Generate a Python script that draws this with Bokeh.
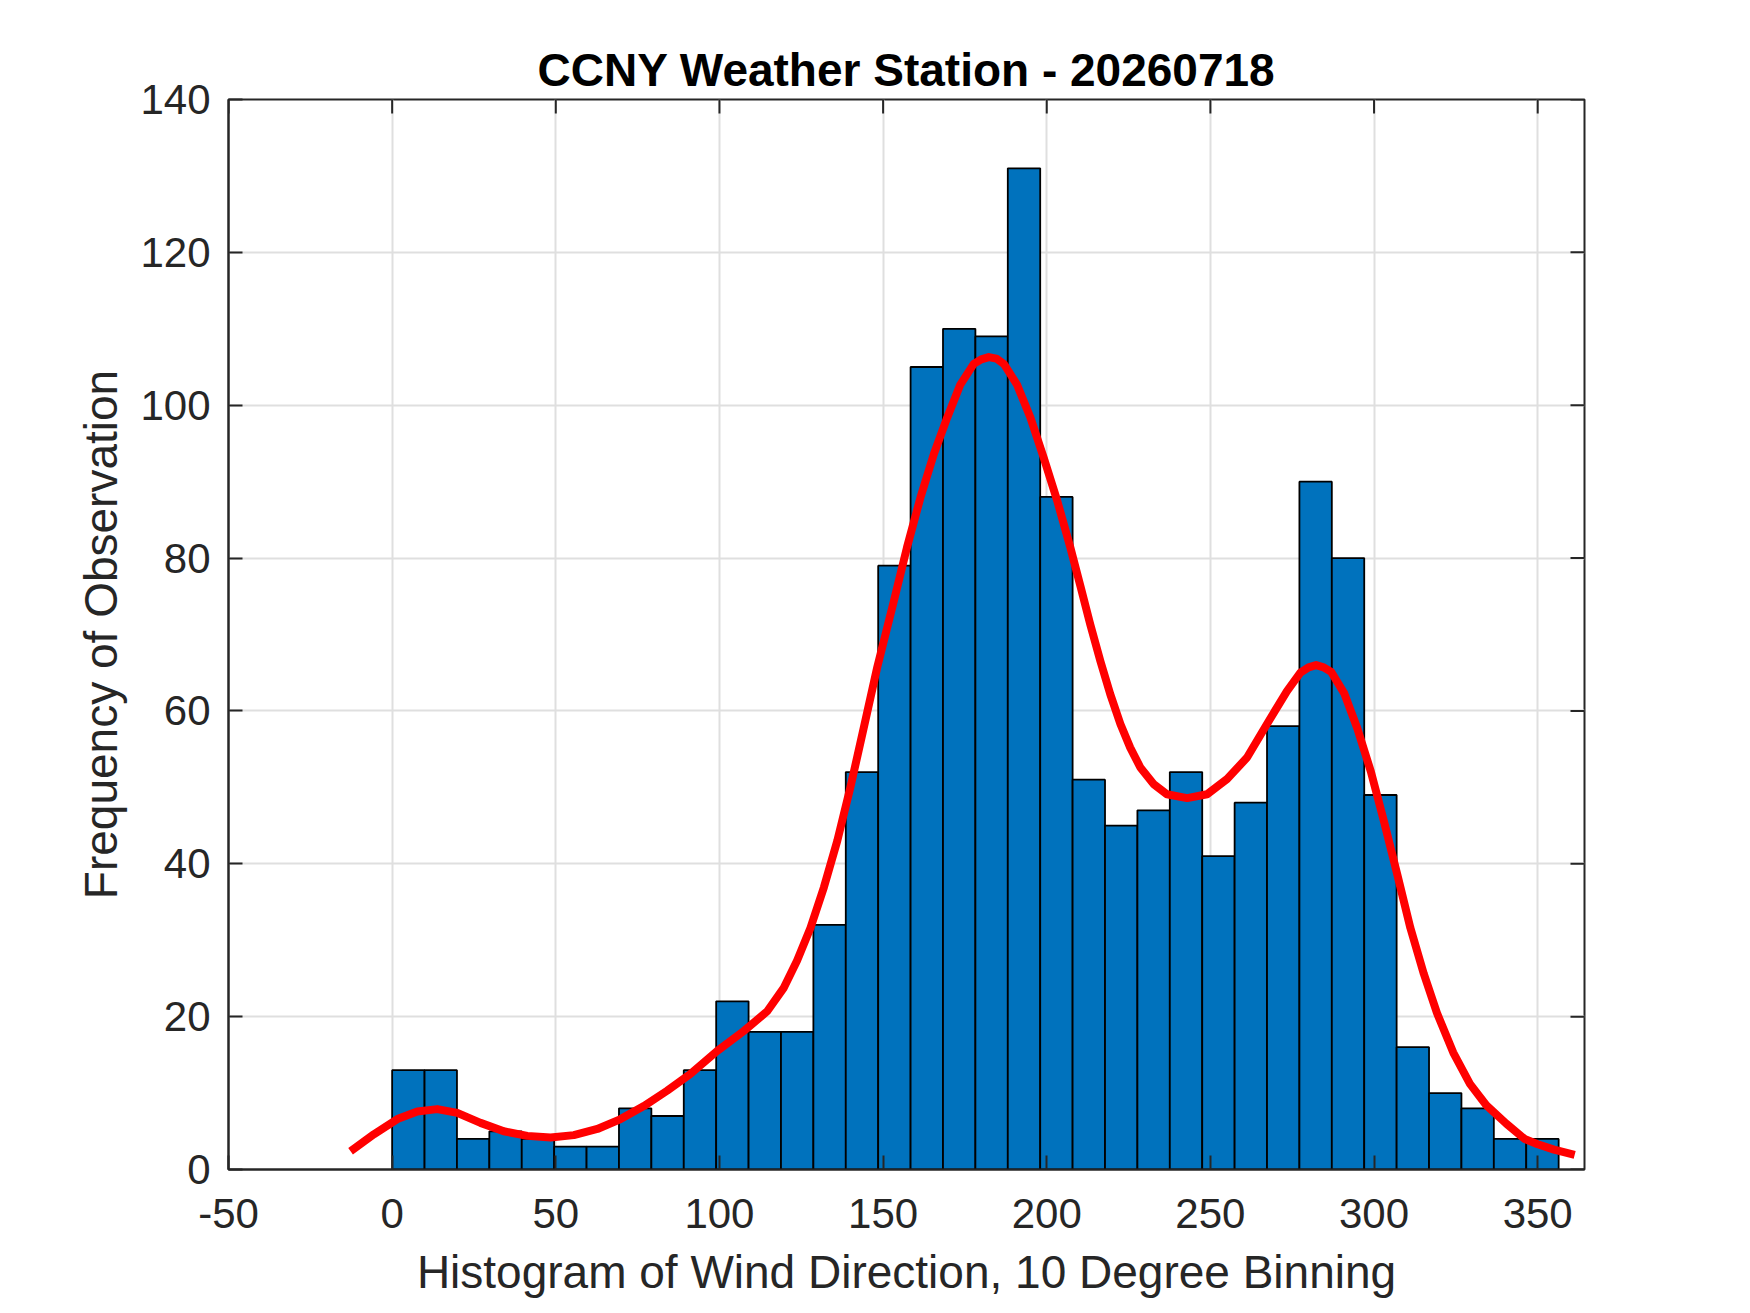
import numpy as np

from bokeh.plotting import figure
from bokeh.models import FixedTicker, Range1d
from bokeh.embed import file_html
from bokeh.resources import INLINE

#-------------- data ----------#
counts = [13, 13, 4, 5, 4, 3, 3, 8, 7, 13, 22, 18, 18, 32, 52, 79, 105, 110, 109, 131,
          88, 51, 45, 47, 52, 41, 48, 58, 90, 80, 49, 16, 10, 8, 4, 4]
dir_min = 0.0          # lowest wind direction in the sample
dir_max = 356.4        # highest wind direction in the sample

# kernel fit drawn over the histogram
fit_x = [-12.7, -5.6, 1.6, 7.7, 13.8, 19.9, 27.0, 34.1, 41.3, 48.4, 55.5, 62.7, 69.8,
         76.9, 84.0, 91.1, 99.3, 107.4, 114.6, 119.7, 123.7, 127.8, 131.9, 136.0,
         140.0, 144.1, 148.2, 153.3, 157.3, 161.4, 165.5, 169.6, 173.6, 177.7, 180.0,
         182.3, 184.6, 186.9, 190.9, 195.0, 199.1, 203.2, 207.2, 210.3, 213.3, 216.4,
         219.4, 222.5, 225.5, 228.6, 232.7, 236.7, 242.9, 249.0, 255.1, 261.2, 267.3,
         273.4, 277.5, 280.0, 282.3, 284.6, 286.9, 290.9, 294.9, 299.0, 303.0, 307.1,
         311.1, 315.2, 319.2, 324.2, 329.3, 334.3, 340.4, 346.0, 350.0, 355.0, 361.3]
fit_y = [2.4, 4.6, 6.6, 7.6, 7.9, 7.4, 6.1, 5.0, 4.4, 4.2, 4.5, 5.3, 6.6,
         8.3, 10.3, 12.5, 15.5, 18.1, 20.7, 23.8, 27.3, 31.6, 36.9, 43.0,
         50.0, 57.8, 65.7, 74.4, 81.4, 87.9, 93.6, 98.4, 102.7, 105.4, 106.0,
         106.3, 106.1, 105.4, 102.7, 98.4, 93.1, 87.5, 81.4, 76.3, 71.3, 66.5,
         62.2, 58.3, 55.2, 52.6, 50.4, 49.1, 48.6, 49.1, 51.1, 53.9, 58.3,
         62.6, 65.0, 65.7, 66.0, 65.7, 65.1, 62.3, 57.7, 52.1, 45.6, 38.6,
         31.6, 25.6, 20.5, 15.3, 11.2, 8.4, 6.0, 4.0, 3.3, 2.6, 1.9]

x_lo, x_hi = -50, 364.3
y_lo, y_hi = 0, 140
x_ticks = [-50, 0, 50, 100, 150, 200, 250, 300, 350]
y_ticks = [0, 20, 40, 60, 80, 100, 120, 140]
#-------------------------------------------------#

FONT = "Liberation Sans"
AX_COLOR = "#262626"


def style_axis(ax):
    ax.major_tick_in = 14
    ax.major_tick_out = 0
    ax.minor_tick_in = 0
    ax.minor_tick_out = 0
    ax.axis_line_color = AX_COLOR
    ax.axis_line_width = 2
    ax.major_tick_line_color = AX_COLOR
    ax.major_tick_line_width = 2
    ax.major_label_text_font = FONT
    ax.major_label_text_font_size = "42px"
    ax.major_label_text_color = AX_COLOR
    ax.axis_label_text_font = FONT
    ax.axis_label_text_font_size = "46px"
    ax.axis_label_text_font_style = "normal"
    ax.axis_label_text_color = AX_COLOR


p = figure(width=1742, height=1305,
           x_range=Range1d(x_lo, x_hi), y_range=Range1d(y_lo, y_hi),
           title="CCNY Weather Station - 20260718",
           output_backend="svg", toolbar_location=None,
           min_border_left=228, min_border_right=158,
           min_border_top=99, min_border_bottom=136)

p.title.align = "center"
p.title.text_font = FONT
p.title.text_font_size = "46px"
p.title.text_font_style = "bold"
p.title.text_color = "black"
p.title.standoff = 8

p.background_fill_color = "white"
p.border_fill_color = "white"
p.outline_line_color = AX_COLOR
p.outline_line_width = 2

# histogram bars
edges = np.linspace(dir_min, dir_max, len(counts) + 1)
p.quad(left=edges[:-1], right=edges[1:], top=counts, bottom=0,
       fill_color="#0072BD", line_color="black", line_width=1.8)

# fitted curve
p.line(fit_x, fit_y, line_color="#FF0000", line_width=8, line_join="round")

xt = FixedTicker(ticks=x_ticks)
yt = FixedTicker(ticks=y_ticks)

p.xaxis.ticker = xt
p.yaxis.ticker = yt
p.xaxis.major_label_overrides = {t: str(t) for t in x_ticks}
p.xaxis.axis_label = "Histogram of Wind Direction, 10 Degree Binning"
p.yaxis.axis_label = "Frequency of Observation"
style_axis(p.xaxis[0])
style_axis(p.yaxis[0])
p.xaxis.major_label_standoff = 29
p.xaxis.axis_label_standoff = 15
p.yaxis.major_label_standoff = 18
p.yaxis.axis_label_standoff = 10

# mirrored inward ticks on the top and right edges of the box
p.scatter([t for t in x_ticks], [y_hi] * len(x_ticks), marker="dash", size=28,
          angle=np.pi / 2, line_color=AX_COLOR, line_width=2)
p.scatter([x_hi] * len(y_ticks), y_ticks, marker="dash", size=28,
          line_color=AX_COLOR, line_width=2)

for g in (p.xgrid[0], p.ygrid[0]):
    g.grid_line_color = "#dfdfdf"
    g.grid_line_width = 2
p.xgrid.ticker = xt
p.ygrid.ticker = yt

open("out.html", "w").write(file_html(p, INLINE))
